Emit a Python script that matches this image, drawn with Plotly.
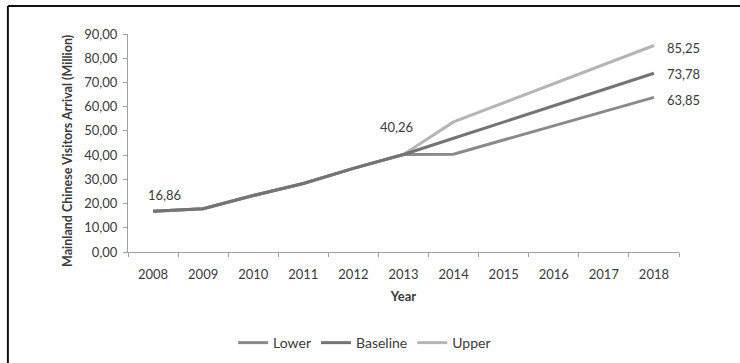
import plotly.graph_objects as go

years = ["2008", "2009", "2010", "2011", "2012", "2013", "2014", "2015", "2016", "2017", "2018"]
lower = [16.86, 17.9, 23.3, 28.3, 34.5, 40.26, 40.4, 46.3, 52.1, 58.0, 63.85]
baseline = [16.86, 17.9, 23.3, 28.3, 34.5, 40.26, 46.96, 53.66, 60.37, 67.07, 73.78]
upper = [16.86, 17.9, 23.3, 28.3, 34.5, 40.26, 53.7, 61.6, 69.5, 77.4, 85.25]
y_ticks = [0, 10, 20, 30, 40, 50, 60, 70, 80, 90]

FONT = "Lato"
TXT = "#3a3a3a"


def fmt(v):
    return f"{v:.2f}".replace(".", ",")


fig = go.Figure()
fig.add_trace(go.Scatter(x=years, y=upper, mode="lines", name="Upper",
                         line=dict(color="#b5b5b5", width=3), legendrank=3))
fig.add_trace(go.Scatter(x=years, y=lower, mode="lines", name="Lower",
                         line=dict(color="#8a8a8a", width=3), legendrank=1))
fig.add_trace(go.Scatter(x=years, y=baseline, mode="lines", name="Baseline",
                         line=dict(color="#747474", width=3), legendrank=2))

# data labels (x given as category index)
fig.add_annotation(x=0, y=lower[0], text=fmt(lower[0]), showarrow=False,
                   xshift=11, yshift=16, font=dict(size=13, color=TXT, family=FONT))
fig.add_annotation(x=5, y=baseline[5], text=fmt(baseline[5]), showarrow=False,
                   xshift=-7, yshift=27, font=dict(size=13, color=TXT, family=FONT))
for v, dy in ((upper[-1], -2), (baseline[-1], -1), (lower[-1], -3)):
    fig.add_annotation(x=len(years) - 1, y=v, text=fmt(v), showarrow=False,
                       xanchor="left", xshift=11, yshift=dy,
                       font=dict(size=13, color=TXT, family=FONT))

# y-axis title as annotation for exact placement
fig.add_annotation(xref="paper", yref="paper", x=-0.111, y=0.463, textangle=-90,
                   xanchor="center", yanchor="middle",
                   text="<b>Mainland Chinese Visitors Arrival (Million)</b>", showarrow=False,
                   font=dict(size=12.5, color=TXT, family=FONT))

# frame border (top and left)
fig.add_shape(type="line", xref="paper", yref="paper", x0=-0.218, x1=1.2, y0=1.128, y1=1.128,
              line=dict(color="#111111", width=2))
fig.add_shape(type="line", xref="paper", yref="paper", x0=-0.218, x1=-0.218, y0=1.128, y1=-0.6,
              line=dict(color="#111111", width=2))

fig.update_layout(
    width=740, height=363,
    margin=dict(l=128, r=61, t=34, b=111, autoexpand=False),
    paper_bgcolor="white", plot_bgcolor="white",
    separators=",.",
    font=dict(family=FONT, size=13, color=TXT),
    showlegend=True,
    legend=dict(orientation="h", xref="container", yref="container",
                x=0.315, xanchor="left", y=0.055, yanchor="middle",
                traceorder="normal", font=dict(size=14, color=TXT, family=FONT),
                itemwidth=30),
    xaxis=dict(type="category", categoryorder="array", categoryarray=years,
               range=[-0.5, 10.5], showgrid=False, showline=True, linecolor="#a0a0a0",
               linewidth=1, ticks="outside", tickson="boundaries", ticklen=4,
               tickcolor="#a0a0a0", ticklabelstandoff=10,
               title=dict(text="<b>Year</b>", font=dict(size=13, color=TXT), standoff=11),
               tickfont=dict(size=13, color=TXT)),
    yaxis=dict(range=[0, 90], tickvals=y_ticks, tickformat=".2f", showgrid=False,
               showline=True, linecolor="#a0a0a0", linewidth=1, ticks="outside",
               ticklen=4, tickcolor="#a0a0a0", zeroline=False, ticklabelstandoff=3,
               tickfont=dict(size=13, color=TXT)),
)

fig.write_html("out.html", config={"displayModeBar": False},
               post_script="document.body.style.margin='0';document.body.style.overflow='hidden';")
